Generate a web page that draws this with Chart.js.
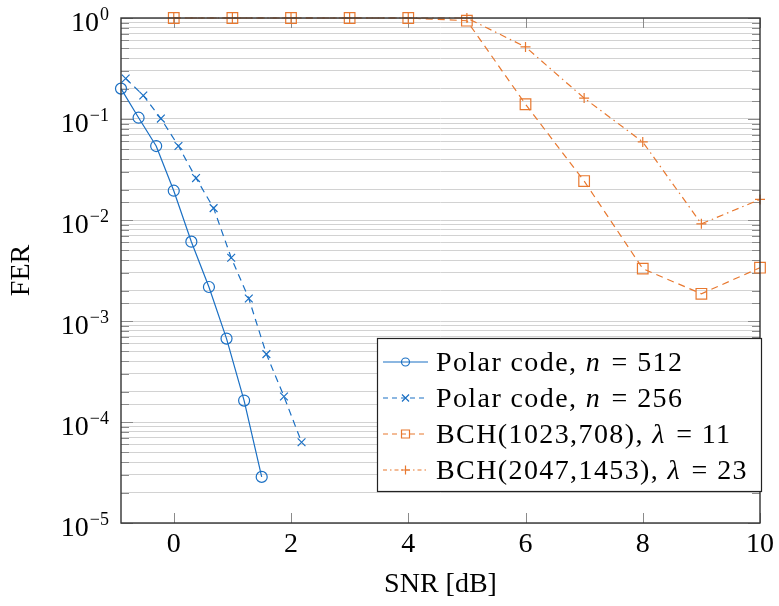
<!DOCTYPE html>
<html>
<head>
<meta charset="utf-8">
<script src="https://cdn.jsdelivr.net/npm/chart.js@4.4.1/dist/chart.umd.min.js"></script>
<style>
  body { margin: 0; background: #fff; }
  canvas { display: block; }
</style>
</head>
<body>
<canvas id="myChart" width="779" height="606"></canvas>
<script>
// values
var polar512X = [-0.9, -0.6, -0.3, 0, 0.3, 0.6, 0.9, 1.2, 1.5];
var polar512Y = [0.2, 0.103, 0.054, 0.0195, 0.0061, 0.00217, 0.00067, 0.000163, 0.0000286];
var polar256X = [-0.82, -0.52, -0.22, 0.08, 0.38, 0.68, 0.98, 1.28, 1.58, 1.88, 2.18];
var polar256Y = [0.252, 0.171, 0.101, 0.054, 0.026, 0.0131, 0.00423, 0.00167, 0.00047, 0.000179, 0.000063];
var bchX = [0, 1, 2, 3, 4, 5, 6, 7, 8, 9, 10];
var bch1023Y = [1, 1, 1, 1, 1, 0.94, 0.14, 0.0243, 0.0033, 0.00186, 0.00337];
var bch2047Y = [1, 1, 1, 1, 1, 1, 0.517, 0.161, 0.0593, 0.00916, 0.016];

var xTicks = [0, 2, 4, 6, 8, 10];
var yMajor = [1, 1e-1, 1e-2, 1e-3, 1e-4, 1e-5];
var yExp = ['0', '\u22121', '\u22122', '\u22123', '\u22124', '\u22125'];

var seriesName = ['Polar code, ', 'Polar code, ', 'BCH(1023,708), ', 'BCH(2047,1453), '];
var seriesVar = ['n', 'n', '\u03bb', '\u03bb'];
var seriesParam = ['512', '256', '11', '23'];

var blue = '#1b70c4';
var orange = '#e8782f';
var serif = '"Liberation Serif", "Times New Roman", serif';

function pts(xs, ys)
{
    var out = [];
    for (var i = 0; i < xs.length; i++) out.push({x: xs[i], y: ys[i]});
    return out;
}

var styles = [
    {color: blue, dash: [], marker: 'circle', r: 5.5},
    {color: blue, dash: [7, 5], marker: 'crossRot', r: 5.5},
    {color: orange, dash: [7, 5], marker: 'rect', r: 7.5},
    {color: orange, dash: [7, 4, 1.5, 4], marker: 'cross', r: 5}
];
var seriesData = [pts(polar512X, polar512Y), pts(polar256X, polar256Y), pts(bchX, bch1023Y), pts(bchX, bch2047Y)];

var datasets = [];
for (var i = 0; i < 4; i++)
{
    datasets.push({
        label: seriesName[i] + seriesVar[i] + ' = ' + seriesParam[i],
        data: seriesData[i],
        borderColor: styles[i].color,
        backgroundColor: 'rgba(0,0,0,0)',
        borderWidth: 1.2,
        borderDash: styles[i].dash,
        pointStyle: styles[i].marker,
        pointRadius: styles[i].r,
        pointBorderWidth: 1.2,
        pointBorderColor: styles[i].color,
        pointBackgroundColor: 'rgba(0,0,0,0)',
        tension: 0,
        clip: false
    });
}

function isMajor(v)
{
    var l = Math.log10(v);
    return Math.abs(l - Math.round(l)) < 1e-9;
}

function legendMarker(ctx, kind, x, y)
{
    ctx.beginPath();
    if (kind == 'circle') ctx.arc(x, y, 4, 0, Math.PI * 2);
    else if (kind == 'crossRot') { ctx.moveTo(x-3.5, y-3.5); ctx.lineTo(x+3.5, y+3.5); ctx.moveTo(x-3.5, y+3.5); ctx.lineTo(x+3.5, y-3.5); }
    else if (kind == 'rect') ctx.rect(x-4, y-4, 8, 8);
    else { ctx.moveTo(x-4.5, y); ctx.lineTo(x+4.5, y); ctx.moveTo(x, y-4.5); ctx.lineTo(x, y+4.5); }
    ctx.stroke();
}

var frame = {
    id: 'frame',
    beforeDatasetsDraw: function(chart)
    {
        var ctx = chart.ctx, a = chart.chartArea, sx = chart.scales.x, sy = chart.scales.y;
        ctx.save();
        ctx.strokeStyle = '#8a8a8a';
        ctx.lineWidth = 1;
        ctx.beginPath();
        sx.ticks.forEach(function(t) {
            var px = Math.round(sx.getPixelForValue(t.value)) + 0.5;
            ctx.moveTo(px, a.bottom); ctx.lineTo(px, a.bottom - 10);
            ctx.moveTo(px, a.top); ctx.lineTo(px, a.top + 10);
        });
        sy.ticks.forEach(function(t) {
            var py = Math.round(sy.getPixelForValue(t.value)) + 0.5;
            var len = isMajor(t.value) ? 12 : 8;
            ctx.moveTo(a.left, py); ctx.lineTo(a.left + len, py);
            ctx.moveTo(a.right, py); ctx.lineTo(a.right - len, py);
        });
        ctx.stroke();
        ctx.restore();
    },
    afterDatasetsDraw: function(chart)
    {
        var ctx = chart.ctx, a = chart.chartArea, sy = chart.scales.y;
        ctx.save();
        // axis box
        ctx.strokeStyle = '#333';
        ctx.lineWidth = 1.4;
        ctx.strokeRect(a.left, a.top, a.right - a.left, a.bottom - a.top);

        // y tick labels 10^k
        ctx.fillStyle = '#000';
        ctx.textBaseline = 'alphabetic';
        for (var i = 0; i < yMajor.length; i++)
        {
            var py = sy.getPixelForValue(yMajor[i]);
            ctx.font = '18px ' + serif;
            var we = ctx.measureText(yExp[i]).width;
            ctx.textAlign = 'right';
            ctx.fillText(yExp[i], 109, py + 2);
            ctx.font = '28px ' + serif;
            ctx.fillText('10', 108 - we, py + 13);
        }

        // legend
        var bx = 377, by = 338, bw = 384, bh = 153;
        ctx.fillStyle = '#fff';
        ctx.fillRect(bx, by, bw, bh);
        ctx.strokeStyle = '#222';
        ctx.lineWidth = 1.2;
        ctx.strokeRect(bx + 0.5, by + 0.5, bw, bh);
        for (var k = 0; k < 4; k++)
        {
            var ry = 362 + k * 36;
            ctx.strokeStyle = styles[k].color;
            ctx.lineWidth = 1.2;
            ctx.setLineDash(styles[k].dash.length ? (k == 3 ? [4, 3, 1.5, 3] : [5, 4]) : []);
            ctx.beginPath();
            ctx.moveTo(383, ry); ctx.lineTo(428, ry);
            ctx.stroke();
            ctx.setLineDash([]);
            legendMarker(ctx, styles[k].marker, 405.5, ry);

            ctx.fillStyle = '#000';
            ctx.textAlign = 'left';
            ctx.textBaseline = 'alphabetic';
            ctx.letterSpacing = '1.4px';
            var tx = 436, base = ry + 9;
            ctx.font = '28px ' + serif;
            ctx.fillText(seriesName[k], tx, base);
            tx += ctx.measureText(seriesName[k]).width;
            ctx.font = 'italic 28px ' + serif;
            ctx.fillText(seriesVar[k], tx, base);
            tx += ctx.measureText(seriesVar[k]).width;
            ctx.font = '28px ' + serif;
            ctx.fillText(' = ' + seriesParam[k], tx + 2, base);
            ctx.letterSpacing = '0px';
        }
        ctx.restore();
    }
};

var canvas = document.getElementById('myChart');
var myChart = new Chart(canvas.getContext('2d'),
{
    type: 'line',
    data: {datasets: datasets},
    options:
    {
        responsive: false,
        animation: false,
        devicePixelRatio: 1,
        layout: {padding: {top: 18, right: 17, left: 0, bottom: 0}},
        plugins: {legend: {display: false}, tooltip: {enabled: false}},
        scales:
        {
            x:
            {
                type: 'linear',
                min: -0.9,
                max: 10,
                afterBuildTicks: function(s) { s.ticks = xTicks.map(function(v) { return {value: v}; }); },
                afterFit: function(s) { s.height = 83; },
                grid: {display: false, drawTicks: false},
                border: {display: false},
                ticks: {color: '#000', font: {family: serif, size: 28}, padding: 5, maxRotation: 0, autoSkip: false},
                title: {display: true, text: 'SNR [dB]', color: '#000', font: {family: serif, size: 28}, padding: {top: 0, bottom: 5}}
            },
            y:
            {
                type: 'logarithmic',
                min: 1e-5,
                max: 1,
                afterFit: function(s) { s.width = 121; },
                grid: {color: '#d2d2d2', lineWidth: 1, drawTicks: false},
                border: {display: false},
                ticks: {display: false, autoSkip: false},
                title: {display: true, text: 'FER', color: '#000', font: {family: serif, size: 28}, padding: {top: 5, bottom: 0}}
            }
        }
    },
    plugins: [frame]
});
</script>
</body>
</html>
